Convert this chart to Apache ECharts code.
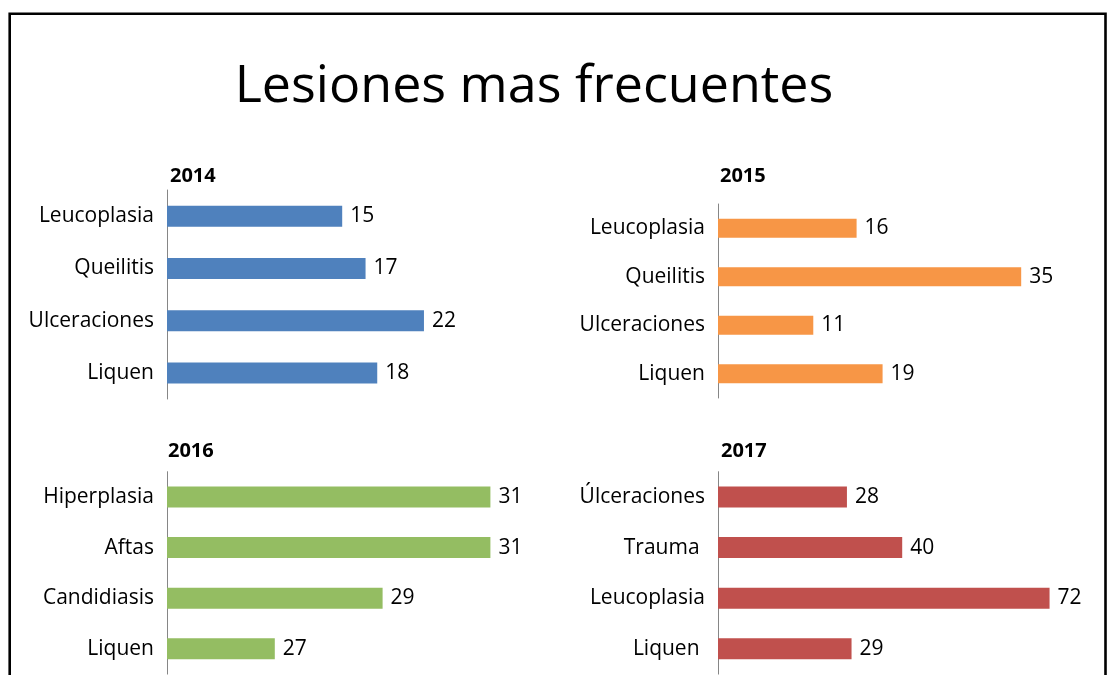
<!DOCTYPE html>
<html>
<head>
<meta charset="utf-8">
<script src="https://cdn.jsdelivr.net/npm/echarts@6/dist/echarts.min.js"></script>
<style>
  html, body { margin: 0; padding: 0; background: #ffffff; }
  #chart { width: 1110px; height: 675px; }
</style>
</head>
<body>
<div id="chart"></div>
<script>
// Most frequent lesions per year
const titleText = 'Lesiones mas frecuentes';

const years = ['2014', '2015', '2016', '2017'];

const cat2014 = ['Leucoplasia', 'Queilitis', 'Ulceraciones', 'Liquen'];
const val2014 = [15, 17, 22, 18];

const cat2015 = ['Leucoplasia', 'Queilitis', 'Ulceraciones', 'Liquen'];
const val2015 = [16, 35, 11, 19];

const cat2016 = ['Hiperplasia', 'Aftas', 'Candidiasis', 'Liquen'];
const val2016 = [31, 31, 29, 27];

const cat2017 = ['Úlceraciones', 'Trauma ', 'Leucoplasia', 'Liquen '];
const val2017 = [28, 40, 72, 29];

const FONT = '"Open Sans", "Liberation Sans", sans-serif';

// panel layout: plot box and value-axis range for each year
const panels = [
  { cats: cat2014, vals: val2014, color: '#4F81BD', left: 167, top: 190, width: 292, height: 209, min: 0, max: 25, bar: 21, yearX: 170, yearY: 180 },
  { cats: cat2015, vals: val2015, color: '#F79646', left: 718, top: 204, width: 346.5, height: 194, min: 0, max: 40, bar: 19, yearX: 720, yearY: 180 },
  { cats: cat2016, vals: val2016, color: '#94BD62', left: 167, top: 471.7, width: 323.4, height: 202.4, min: 25, max: 31, bar: 21, yearX: 168, yearY: 455 },
  { cats: cat2017, vals: val2017, color: '#C0504D', left: 718, top: 471.7, width: 368.4, height: 202.4, min: 0, max: 80, bar: 21, yearX: 721, yearY: 455 }
];

const grid = [], xAxis = [], yAxis = [], series = [], graphic = [];

panels.forEach((p, i) => {
  grid.push({ left: p.left, top: p.top, width: p.width, height: p.height, containLabel: false });
  xAxis.push({
    type: 'value', gridIndex: i, min: p.min, max: p.max, show: false,
    splitLine: { show: false }
  });
  yAxis.push({
    type: 'category', gridIndex: i, data: p.cats, inverse: true,
    axisLine: { show: true, lineStyle: { color: '#868686', width: 1 } },
    axisTick: { show: false },
    axisLabel: { color: '#000000', fontFamily: FONT, fontSize: 21, margin: 13, padding: [0, 0, 3, 0] }
  });
  series.push({
    type: 'bar', xAxisIndex: i, yAxisIndex: i, data: p.vals, barWidth: p.bar,
    itemStyle: { color: p.color },
    label: { show: true, position: 'right', distance: 8, color: '#000000', fontFamily: FONT, fontSize: 21, padding: [0, 0, 3, 0] },
    silent: true, animation: false
  });
  graphic.push({
    type: 'text', left: p.yearX, top: p.yearY - 14,
    style: { text: years[i], fill: '#000000', font: 'bold 20px ' + FONT }
  });
});

// outer frame
graphic.push({
  type: 'rect', shape: { x: 9.7, y: 13.7, width: 1095.8, height: 720 },
  style: { fill: null, stroke: '#000000', lineWidth: 2.6 }, silent: true
});

// main heading
graphic.push({
  type: 'text', x: 534, y: 87,
  style: { text: titleText, fill: '#000000', font: '52px ' + FONT, textAlign: 'center', textVerticalAlign: 'middle' }
});

const chart = echarts.init(document.getElementById('chart'));
chart.setOption({
  backgroundColor: '#ffffff',
  animation: false,
  grid, xAxis, yAxis, series, graphic
});
</script>
</body>
</html>
